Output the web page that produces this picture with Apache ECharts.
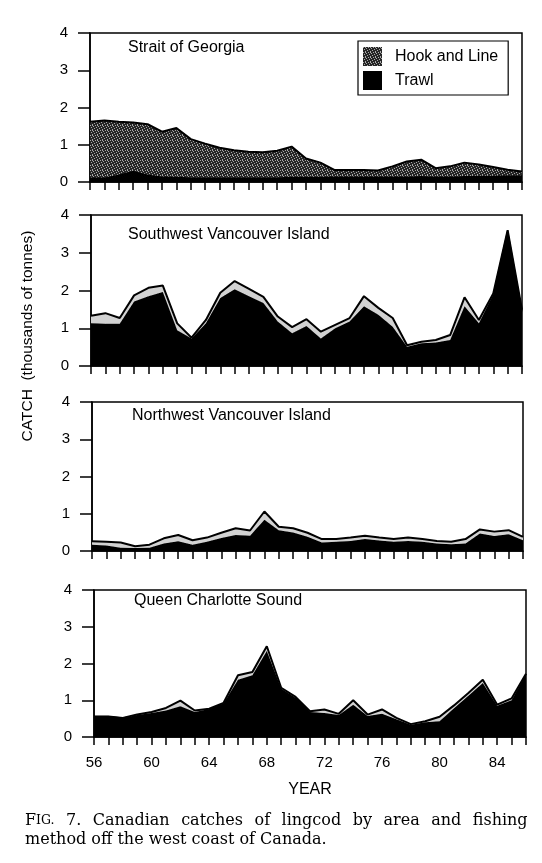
<!DOCTYPE html>
<html><head><meta charset="utf-8">
<script src="https://cdn.jsdelivr.net/npm/echarts@6/dist/echarts.min.js"></script>
<style>html,body{margin:0;padding:0;background:#fff}#c{width:542px;height:863px}</style>
</head><body><div id="c"></div>
<script>
const years = ['56','57','58','59','60','61','62','63','64','65','66','67','68','69','70','71','72','73','74','75','76','77','78','79','80','81','82','83','84','85','86'];
const panelTitles = ['Strait of Georgia','Southwest Vancouver Island','Northwest Vancouver Island','Queen Charlotte Sound'];
const yTicks = [0,1,2,3,4];

// Strait of Georgia
const georgiaTrawl = [0.12,0.12,0.20,0.30,0.20,0.15,0.14,0.13,0.13,0.13,0.13,0.13,0.13,0.13,0.14,0.14,0.14,0.15,0.15,0.15,0.15,0.15,0.15,0.16,0.15,0.15,0.16,0.17,0.17,0.18,0.18];
const georgiaHook  = [1.50,1.53,1.42,1.30,1.35,1.20,1.31,1.02,0.90,0.79,0.72,0.68,0.67,0.71,0.81,0.49,0.38,0.17,0.17,0.17,0.16,0.27,0.40,0.44,0.22,0.27,0.36,0.30,0.23,0.15,0.10];
// Southwest Vancouver Island
const swviTrawl = [1.13,1.12,1.12,1.71,1.85,1.96,0.95,0.73,1.13,1.80,2.03,1.85,1.67,1.18,0.87,1.06,0.73,1.00,1.18,1.58,1.36,1.04,0.51,0.60,0.62,0.69,1.58,1.13,1.90,3.60,1.45];
const swviHook  = [0.20,0.28,0.15,0.16,0.22,0.17,0.18,0.02,0.09,0.14,0.22,0.19,0.16,0.13,0.16,0.18,0.18,0.09,0.09,0.27,0.18,0.23,0.04,0.04,0.07,0.13,0.24,0.09,0.02,0.00,0.04];
// Northwest Vancouver Island
const nwviTrawl = [0.17,0.15,0.09,0.08,0.09,0.20,0.26,0.17,0.25,0.35,0.43,0.41,0.84,0.56,0.50,0.38,0.23,0.25,0.27,0.32,0.28,0.25,0.27,0.25,0.20,0.18,0.20,0.47,0.40,0.45,0.29];
const nwviHook  = [0.09,0.10,0.14,0.05,0.08,0.14,0.17,0.12,0.11,0.14,0.18,0.14,0.22,0.09,0.11,0.11,0.09,0.07,0.09,0.09,0.08,0.07,0.09,0.07,0.07,0.07,0.12,0.11,0.12,0.11,0.09];
// Queen Charlotte Sound
const qcsTrawl = [0.56,0.56,0.52,0.60,0.65,0.72,0.84,0.68,0.76,0.92,1.56,1.68,2.34,1.32,1.07,0.68,0.65,0.60,0.88,0.57,0.63,0.48,0.33,0.40,0.43,0.78,1.12,1.47,0.85,1.00,1.70];
const qcsHook  = [0.00,0.00,0.00,0.01,0.03,0.07,0.15,0.04,0.01,0.01,0.12,0.09,0.13,0.02,0.02,0.02,0.10,0.03,0.12,0.04,0.12,0.04,0.02,0.03,0.12,0.08,0.08,0.09,0.03,0.05,0.02];

const trawlSets = [georgiaTrawl, swviTrawl, nwviTrawl, qcsTrawl];
const hookSets = [georgiaHook, swviHook, nwviHook, qcsHook];

// stipple texture for hook-and-line area
const pc = document.createElement('canvas');
pc.width = 5; pc.height = 5;
const pctx = pc.getContext('2d');
pctx.fillStyle = '#262626'; pctx.fillRect(0,0,5,5);
pctx.fillStyle = '#a8a8a8';
[[0,0],[3,1],[1,2],[4,3],[2,4],[2,0]].forEach(p => pctx.fillRect(p[0],p[1],1,1));
const stipple = {image: pc, repeat: 'repeat'};

const grids = [
  {left: 90, width: 432, top: 33, height: 149},
  {left: 91, width: 431, top: 215, height: 151},
  {left: 92, width: 431, top: 402, height: 149},
  {left: 94, width: 432, top: 590, height: 147}
];
const titlePos = [[128,50],[128,237],[132,418],[134,603]];
const FONT = 'Liberation Sans, Arial, sans-serif';

const option = {
  backgroundColor: '#fff',
  animation: false,
  legend: {
    data: ['Hook and Line','Trawl'],
    left: 358, top: 41, orient: 'vertical',
    borderColor: '#000', borderWidth: 1.2,
    padding: [6, 10, 5, 5], itemGap: 5,
    itemWidth: 19, itemHeight: 19, icon: 'rect',
    textStyle: {fontFamily: FONT, fontSize: 16, color: '#000', padding: [0,0,0,8]}
  },
  grid: grids.map(g => Object.assign({show: true, borderColor: '#000', borderWidth: 1.5, backgroundColor: 'transparent'}, g)),
  xAxis: grids.map((g, i) => ({
    type: 'category', gridIndex: i, data: years, boundaryGap: false,
    axisLine: {lineStyle: {color: '#000', width: 1.5}},
    axisTick: {show: true, interval: 0, length: 8, inside: false, lineStyle: {color: '#000', width: 1.5}},
    axisLabel: {show: i === 3, interval: 3, margin: 18, fontFamily: FONT, fontSize: 15, color: '#000'},
    name: i === 3 ? 'YEAR' : '', nameLocation: 'middle', nameGap: 45,
    nameTextStyle: {fontFamily: FONT, fontSize: 16, color: '#000'},
    splitLine: {show: false}
  })),
  yAxis: grids.map((g, i) => ({
    type: 'value', gridIndex: i, min: yTicks[0], max: yTicks[yTicks.length-1], interval: 1,
    axisLine: {show: true, lineStyle: {color: '#000', width: 1.5}},
    axisTick: {show: true, length: 12, inside: false, lineStyle: {color: '#000', width: 1.5}},
    axisLabel: {margin: 22, fontFamily: FONT, fontSize: 15, color: '#000'},
    splitLine: {show: false}
  })),
  series: [],
  graphic: []
};

for (let i = 0; i < 4; i++) {
  option.series.push({
    name: 'Trawl', type: 'line', xAxisIndex: i, yAxisIndex: i, stack: 's' + i,
    data: trawlSets[i], symbol: 'none', smooth: false,
    lineStyle: {color: '#000', width: 1},
    itemStyle: {color: '#000'},
    areaStyle: {color: '#000', opacity: 1}, z: 2
  });
  option.series.push({
    name: 'Hook and Line', type: 'line', xAxisIndex: i, yAxisIndex: i, stack: 's' + i,
    data: hookSets[i], symbol: 'none', smooth: false,
    lineStyle: {color: '#000', width: 2},
    itemStyle: {color: i === 0 ? stipple : '#d2d2d2'},
    areaStyle: {color: i === 0 ? stipple : '#d2d2d2', opacity: 1}, z: 3
  });
  option.graphic.push({
    type: 'text', left: titlePos[i][0], top: titlePos[i][1] - 10,
    style: {text: panelTitles[i], font: '16px ' + FONT, fill: '#000'}
  });
}

option.graphic.push({
  type: 'text', x: 28, y: 336, rotation: Math.PI / 2,
  style: {text: 'CATCH  (thousands of tonnes)', font: '15.5px ' + FONT, fill: '#000', align: 'center', verticalAlign: 'middle'}
});

// caption, first line justified with wider word gaps
const cap1 = ['Canadian','catches','of','lingcod','by','area','and','fishing'];
let capText = '{a|F}{b|IG.}{sp| }{c|7.}';
cap1.forEach(w => { capText += '{sp| }{c|' + w + '}'; });
capText += '\n{c|method off the west coast of Canada.}';
const serif = 'DejaVu Serif';
option.graphic.push({
  type: 'text', left: 25, top: 813,
  style: {
    text: capText,
    rich: {
      a: {fontFamily: serif, fontSize: 16, fill: '#000', lineHeight: 19},
      b: {fontFamily: serif, fontSize: 12.5, fill: '#000', lineHeight: 19},
      c: {fontFamily: serif, fontSize: 16, fill: '#000', lineHeight: 19},
      sp: {fontFamily: serif, fontSize: 16, width: 11.5, lineHeight: 19}
    }
  }
});

const chart = echarts.init(document.getElementById('c'), null, {renderer: 'canvas'});
chart.setOption(option);
</script></body></html>
